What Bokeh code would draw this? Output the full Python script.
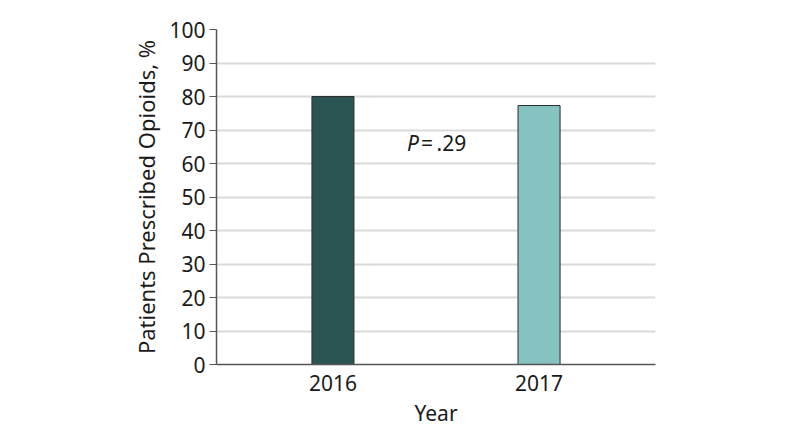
from bokeh.plotting import figure
from bokeh.models import FactorRange, Range1d, FixedTicker, ColumnDataSource, Label
from bokeh.embed import file_html
from bokeh.resources import INLINE

years = ["2016", "2017"]
percent = [80.0, 77.3]
colors = ["#2b5553", "#85c2c0"]
y_ticks = list(range(0, 101, 10))
p_label = ".29"

FONT = "Noto Sans"
FS = "21px"

src = ColumnDataSource(dict(x=years, top=percent, color=colors))

p = figure(x_range=FactorRange(factors=years, range_padding=0.065),
           y_range=Range1d(0, 100),
           width=788, height=433, output_backend="svg", toolbar_location=None,
           min_border_left=216, min_border_right=133, min_border_top=29, min_border_bottom=69)
p.outline_line_color = None
p.background_fill_color = "white"

p.vbar(x="x", top="top", width=0.204, source=src, fill_color="color",
       line_color="#2d2d2d", line_width=1)

p.xgrid.grid_line_color = None
p.ygrid.grid_line_color = "#d9d9d9"
p.ygrid.grid_line_width = 2
p.ygrid.ticker = FixedTicker(ticks=y_ticks)

p.yaxis.ticker = FixedTicker(ticks=y_ticks)
p.yaxis.axis_label = "Patients Prescribed Opioids, %"
p.yaxis.major_tick_out = 7
p.yaxis.major_tick_in = 0
p.yaxis.minor_tick_line_color = None
p.yaxis.major_label_standoff = 4
p.yaxis.axis_label_standoff = 5

p.xaxis.axis_label = "Year"
p.xaxis.major_tick_out = 0
p.xaxis.major_label_standoff = 10
p.xaxis.axis_label_standoff = 5

for ax in (p.xaxis[0], p.yaxis[0]):
    ax.axis_line_color = "#555555"
    ax.axis_line_width = 1.5
    ax.major_label_text_font = FONT
    ax.major_label_text_font_size = FS
    ax.major_label_text_color = "#1a1a1a"
    ax.axis_label_text_font = FONT
    ax.axis_label_text_font_size = FS
    ax.axis_label_text_font_style = "normal"
    ax.axis_label_text_color = "#1a1a1a"
p.yaxis.axis_label_text_font_size = "22px"
p.yaxis.major_tick_line_color = "#555555"
p.xaxis.major_tick_line_color = None

p.add_layout(Label(x=1.0, y=66, x_offset=-17, text="P", text_font=FONT, text_font_style="italic",
                   text_font_size=FS, text_align="right", text_baseline="middle",
                   text_color="#1a1a1a"))
p.add_layout(Label(x=1.0, y=66, x_offset=-15, text="=\u2009" + p_label, text_font=FONT,
                   text_font_size=FS, text_align="left", text_baseline="middle",
                   text_color="#1a1a1a"))

open("out.html", "w").write(file_html(p, INLINE))
